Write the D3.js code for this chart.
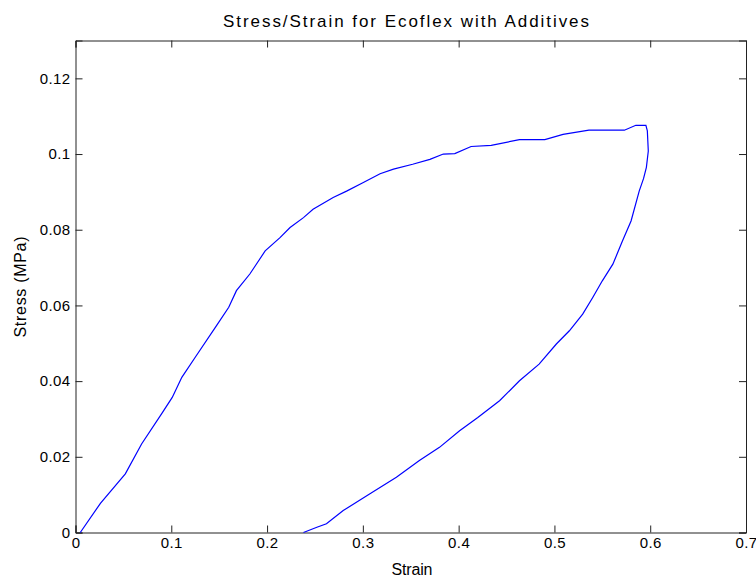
<!DOCTYPE html>
<html lang="en">
<head>
    <meta charset="UTF-8">
    <title>Stress/Strain for Ecoflex with Additives</title>
    <script src="https://d3js.org/d3.v7.min.js"></script>
    <style>
        body { margin: 0; background: #fff; }
        svg { display: block; font-family: "Liberation Sans", Arial, sans-serif; }
        .tick text { font-size: 15px; fill: #000; letter-spacing: 0.4px; }
    </style>
</head>
<body>
    <script>
        let width = 756,
            height = 577;
        let margin = { top: 40.5, left: 75.5, right: 10, bottom: 44.5 };

        // loading branch then unloading branch (strain, stress in MPa)
        let strain = [0.005, 0.026, 0.052, 0.069, 0.090, 0.101, 0.111, 0.125, 0.146, 0.160, 0.168, 0.182,
                      0.198, 0.2135, 0.224, 0.238, 0.248, 0.269, 0.283, 0.300, 0.318, 0.332, 0.352, 0.370,
                      0.384, 0.396, 0.413, 0.434, 0.4635, 0.490, 0.509, 0.536, 0.573, 0.585, 0.5955,
                      0.597, 0.598, 0.596, 0.593, 0.5885, 0.580, 0.571, 0.561, 0.550, 0.540, 0.5295,
                      0.5156, 0.502, 0.484, 0.4635, 0.4427, 0.420, 0.401, 0.380, 0.359, 0.335, 0.307,
                      0.2795, 0.262, 0.252, 0.238];
        let stress = [0, 0.0077, 0.0155, 0.0234, 0.0314, 0.0357, 0.041, 0.0463, 0.0542, 0.0595, 0.0639, 0.0683,
                      0.0744, 0.0779, 0.0806, 0.0832, 0.0854, 0.0885, 0.0902, 0.0924, 0.0948, 0.0960, 0.0973, 0.0986,
                      0.1000, 0.1001, 0.102, 0.1023, 0.1038, 0.1038, 0.1052, 0.1063, 0.1063, 0.1076, 0.1076,
                      0.1061, 0.1008, 0.0965, 0.0935, 0.0902, 0.0823, 0.077, 0.0709, 0.0665, 0.0621, 0.0577,
                      0.0533, 0.0498, 0.0445, 0.0401, 0.0348, 0.0304, 0.0269, 0.0225, 0.019, 0.0146, 0.0102,
                      0.0058, 0.0023, 0.0014, 0];
        let xTicks = [0, 0.1, 0.2, 0.3, 0.4, 0.5, 0.6, 0.7];
        let yTicks = [0, 0.02, 0.04, 0.06, 0.08, 0.1, 0.12];

        let svg = d3.select('body').append('svg')
                    .attr('width', width)
                    .attr('height', height);

        let x = d3.scaleLinear().domain([0, 0.7]).range([margin.left, 746]);
        let y = d3.scaleLinear().domain([0, 0.13]).range([height - margin.bottom, margin.top]);

        let fmt = d => d === 0 ? '0' : String(+d.toFixed(2));

        // axes: ticks pointing inward on all four sides
        svg.append('g')
           .attr('transform', `translate(0,${y(0)})`)
           .call(d3.axisBottom(x).tickValues(xTicks).tickSize(-7).tickPadding(5).tickFormat(fmt));
        svg.append('g')
           .attr('transform', `translate(0,${y(0.13)})`)
           .call(d3.axisTop(x).tickValues(xTicks).tickSize(-7).tickFormat(''));
        svg.append('g')
           .attr('transform', `translate(${x(0)},0)`)
           .call(d3.axisLeft(y).tickValues(yTicks).tickSize(-7).tickPadding(5).tickFormat(fmt));
        svg.append('g')
           .attr('transform', `translate(${x(0.7)},0)`)
           .call(d3.axisRight(y).tickValues(yTicks).tickSize(-7).tickFormat(''));

        svg.selectAll('.domain').attr('stroke', '#222');
        svg.selectAll('.tick line').attr('stroke', '#222');

        let line = d3.line()
                     .x((d, i) => x(strain[i]))
                     .y((d, i) => y(stress[i]))
                     .curve(d3.curveLinear);

        svg.append('path')
           .datum(strain)
           .attr('fill', 'none')
           .attr('stroke', '#0000ff')
           .attr('stroke-width', 1.2)
           .attr('d', line);

        svg.append('text')
           .attr('x', 406).attr('y', 27)
           .attr('text-anchor', 'middle')
           .attr('font-size', 17)
           .attr('textLength', 366)
           .attr('lengthAdjust', 'spacing')
           .text('Stress/Strain for Ecoflex with Additives');

        svg.append('text')
           .attr('x', 412).attr('y', 575)
           .attr('text-anchor', 'middle')
           .attr('font-size', 16)
           .attr('textLength', 41)
           .attr('lengthAdjust', 'spacing')
           .text('Strain');

        svg.append('text')
           .attr('transform', `translate(26,287) rotate(-90)`)
           .attr('text-anchor', 'middle')
           .attr('font-size', 16)
           .attr('textLength', 101)
           .attr('lengthAdjust', 'spacing')
           .text('Stress (MPa)');
    </script>
</body>
</html>
